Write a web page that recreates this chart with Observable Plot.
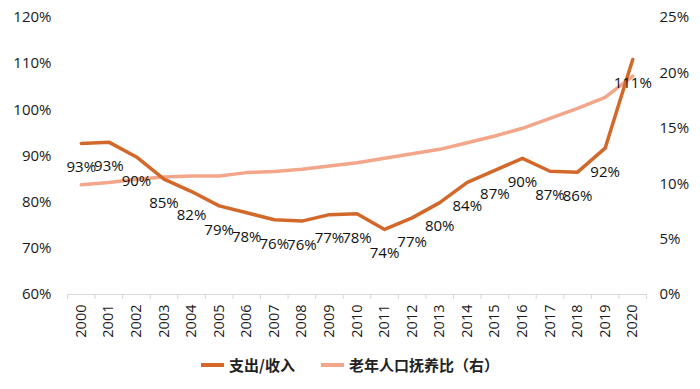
<!DOCTYPE html>
<html><head><meta charset="utf-8">
<script src="https://cdn.jsdelivr.net/npm/d3@7"></script>
<script src="https://cdn.jsdelivr.net/npm/@observablehq/plot@0.6"></script>
<style>
body{margin:0;background:#fff;font-family:"Open Sans",sans-serif;}
#chart svg{display:block;}
#legend{display:flex;justify-content:center;align-items:center;gap:26px;margin-top:10px;font-family:"Noto Sans CJK SC",sans-serif;font-weight:bold;font-size:15px;color:#222;line-height:20px;}
#legend .item{display:flex;align-items:center;gap:5px;}
#legend .sw{display:inline-block;width:23px;height:4px;}
</style></head><body>
<div id="chart"></div>
<div id="legend"></div>
<script>
const years = [2000,2001,2002,2003,2004,2005,2006,2007,2008,2009,2010,2011,2012,2013,2014,2015,2016,2017,2018,2019,2020];
const ratio = [92.7,93.0,89.8,85.0,82.3,79.2,77.7,76.2,75.9,77.3,77.5,74.1,76.6,79.9,84.3,86.9,89.5,86.7,86.5,91.7,110.9];
const ratioLabels = ["93%","93%","90%","85%","82%","79%","78%","76%","76%","77%","78%","74%","77%","80%","84%","87%","90%","87%","86%","92%","111%"];
const dependency = [9.9,10.1,10.4,10.6,10.7,10.7,11.0,11.1,11.3,11.6,11.9,12.3,12.7,13.1,13.7,14.3,15.0,15.9,16.8,17.8,19.7];
const leftTicks = [60,70,80,90,100,110,120];
const rightTicks = [0,5,10,15,20,25];
const seriesNames = ["支出/收入","老年人口抚养比（右）"];
const colors = ["#D2692B","#F4A68A"];

// right axis (0–25%) mapped onto left axis (60–120%)
const toLeft = v => 60 + v * (60 / 25);

const rows = years.map((y, i) => ({year: y, ratio: ratio[i], label: ratioLabels[i], dep: toLeft(dependency[i])}));
const boundaries = [years[0] - 0.5, ...years.map(y => y + 0.5)];

const chart = Plot.plot({
  width: 700,
  height: 345,
  marginLeft: 67,
  marginRight: 54,
  marginTop: 17,
  marginBottom: 51,
  style: {fontFamily: "'Open Sans', sans-serif", color: "#1a1a1a", background: "#fff"},
  x: {type: "linear", domain: [years[0] - 0.5, years[years.length - 1] + 0.5]},
  y: {domain: [60, 120]},
  marks: [
    Plot.ruleY([60], {stroke: "#d9d9d9", strokeWidth: 1}),
    Plot.axisX(boundaries, {tickSize: 5, stroke: "#d9d9d9", tickFormat: () => "", label: null}),
    Plot.axisX(years, {tickSize: 0, tickRotate: -90, tickPadding: 10, fontSize: 14.5, tickFormat: d => String(d), label: null}),
    Plot.axisY(leftTicks, {anchor: "left", tickSize: 0, tickPadding: 16, fontSize: 15, tickFormat: d => d + "%", label: null}),
    Plot.axisY(rightTicks.map(toLeft), {anchor: "right", tickSize: 0, tickPadding: 13, fontSize: 15, tickFormat: (d, i) => rightTicks[i] + "%", label: null}),
    Plot.line(rows, {x: "year", y: "dep", stroke: colors[1], strokeWidth: 3.5}),
    Plot.line(rows, {x: "year", y: "ratio", stroke: colors[0], strokeWidth: 3.5}),
    Plot.text(rows, {x: "year", y: "ratio", text: "label", dy: 24, fontSize: 15, fill: "#111"})
  ]
});
document.getElementById("chart").appendChild(chart);

const legend = document.getElementById("legend");
seriesNames.forEach((n, i) => {
  const item = document.createElement("div");
  item.className = "item";
  item.innerHTML = `<span class="sw" style="background:${colors[i]}"></span><span>${n}</span>`;
  legend.appendChild(item);
});
</script>
</body></html>
